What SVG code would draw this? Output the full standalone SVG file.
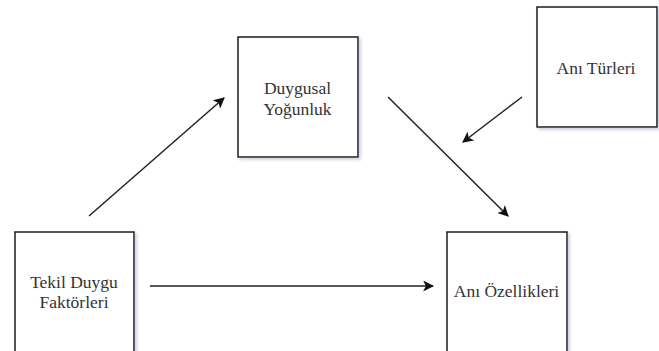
<svg xmlns="http://www.w3.org/2000/svg" width="659" height="351" viewBox="0 0 659 351">
<style>
.box{fill:#fff;stroke:#1a1a1a;stroke-width:1.5;filter:url(#sh)}
.lbl{font-family:'Liberation Serif','Times New Roman',serif;font-size:17.5px;fill:#333;text-anchor:middle}
.arr{stroke:#222;stroke-width:1.5;fill:none;marker-end:url(#ah)}
</style>
<defs>
<filter id="sh" x="-10%" y="-10%" width="125%" height="125%">
<feDropShadow dx="2" dy="2" stdDeviation="1.5" flood-color="#9aa0c0" flood-opacity="0.5"/>
</filter>
<marker id="ah" viewBox="0 0 10 10" refX="9" refY="5" markerWidth="11" markerHeight="11" markerUnits="userSpaceOnUse" orient="auto">
<path d="M0,0 L10,5 L0,10 L2.5,5 Z" fill="#111"/>
</marker>
</defs>
<rect width="659" height="351" fill="#fff"/>
<g id="connectors">
<line class="arr" x1="89" y1="216" x2="224" y2="98"/>
<line class="arr" x1="388" y1="97" x2="508" y2="216"/>
<line class="arr" x1="522" y1="97" x2="463" y2="142"/>
<line class="arr" x1="150" y1="286" x2="433" y2="286"/>
</g>
<g id="tekil">
<rect class="box" x="15" y="232" width="119" height="125"/>
<text class="lbl" x="74" y="288">Tekil Duygu</text>
<text class="lbl" x="74" y="308">Faktörleri</text>
</g>
<g id="duygusal">
<rect class="box" x="238" y="37" width="120" height="120"/>
<text class="lbl" x="297.5" y="94">Duygusal</text>
<text class="lbl" x="297.5" y="115">Yoğunluk</text>
</g>
<g id="turleri">
<rect class="box" x="537" y="7" width="120" height="120"/>
<text class="lbl" x="596" y="74">Anı Türleri</text>
</g>
<g id="ozellikleri">
<rect class="box" x="447" y="232" width="120" height="125"/>
<text class="lbl" x="506.5" y="297">Anı Özellikleri</text>
</g>
</svg>
